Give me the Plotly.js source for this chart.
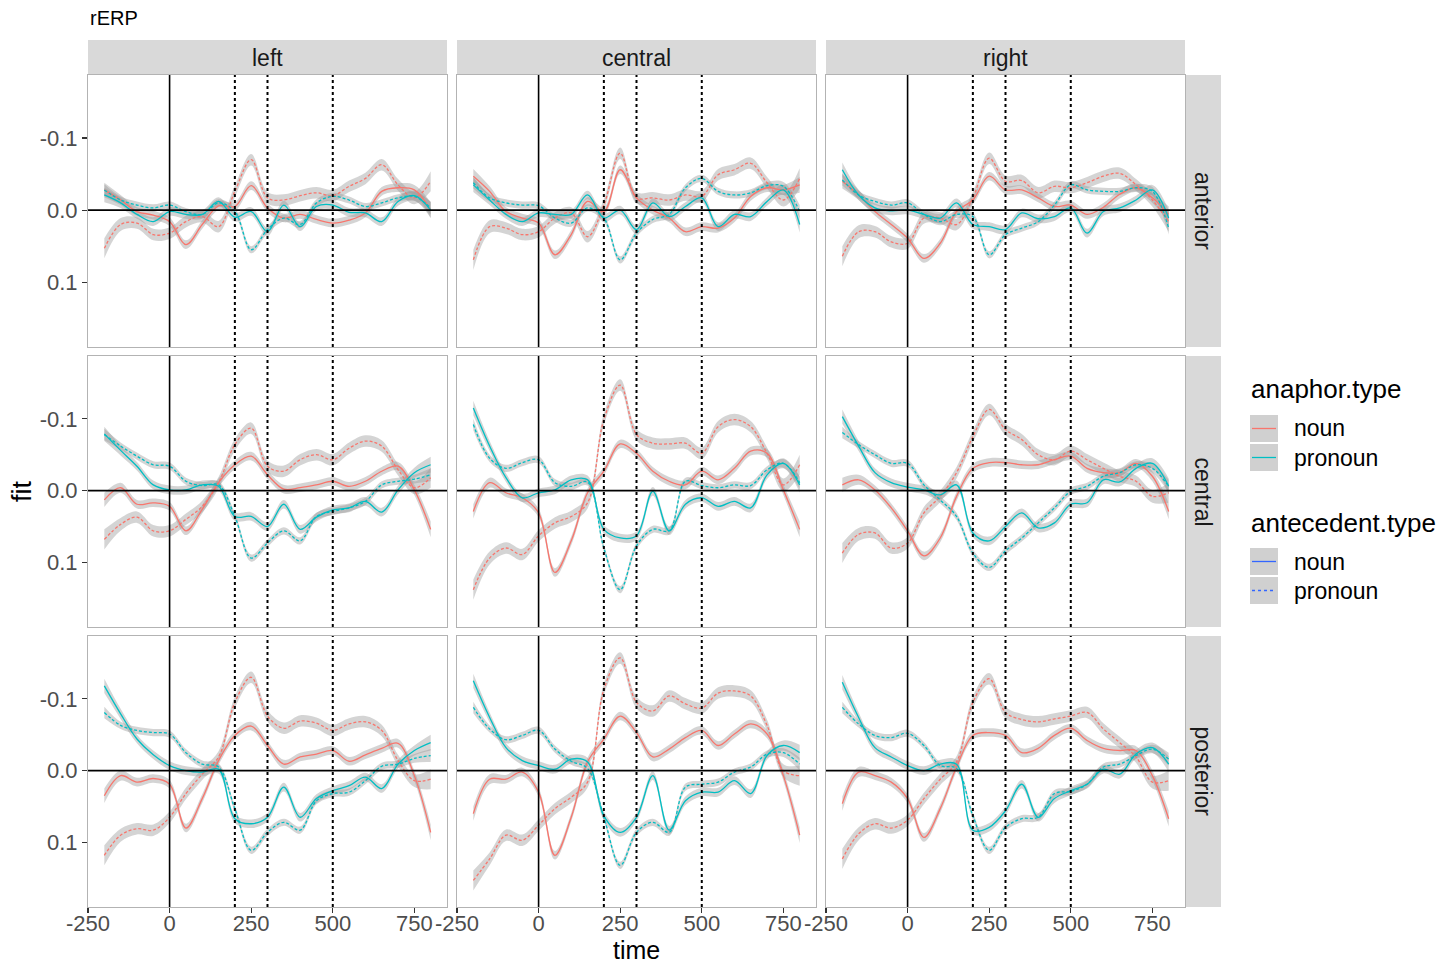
<!DOCTYPE html>
<html>
<head>
<meta charset="utf-8">
<script src="https://cdn.plot.ly/plotly-3.0.1.min.js"></script>
<style>
  html, body { margin: 0; padding: 0; background: #ffffff; }
  #chart { width: 1453px; height: 966px; }
</style>
</head>
<body>
<div id="chart"></div>
<script>
(function () {

	'use strict';

	// time points (ms) of the fitted curves
	const times = [-200, -150, -100, -50, 0, 50, 100, 150, 200, 250, 300, 350, 400, 450, 500, 550, 600, 650, 700, 750, 800];

	// facet labels
	const regions = ['left', 'central', 'right'];       // columns
	const sites = ['anterior', 'central', 'posterior']; // rows

	// axis ticks
	const xTickVals = [-250, 0, 250, 500, 750];
	const xTickText = ['-250', '0', '250', '500', '750'];
	const yTickVals = [-0.1, 0, 0.1];
	const yTickText = ['-0.1', '0.0', '0.1'];

	// reference lines (ms)
	const onsetTime = 0;
	const windowTimes = [200, 300, 500];

	// NN = anaphor noun / antecedent noun, NP = anaphor noun / antecedent pronoun
	// PN = anaphor pronoun / antecedent noun, PP = anaphor pronoun / antecedent pronoun

	// anterior
	const anteriorLeftNN = [-0.028, -0.014, 0.002, 0.007, 0.016, 0.048, 0.020, -0.006, -0.005, -0.034, -0.003, 0.011, 0.006, 0.013, 0.018, 0.014, 0.004, -0.026, -0.031, -0.028, 0.000];
	const anteriorLeftNP = [0.053, 0.020, 0.018, 0.034, 0.032, 0.016, 0.009, 0.023, -0.026, -0.070, -0.017, -0.014, -0.020, -0.024, -0.020, -0.033, -0.044, -0.063, -0.035, -0.017, -0.040];
	const anteriorLeftPN = [-0.021, -0.010, 0.006, 0.016, 0.002, 0.006, 0.006, -0.012, 0.010, 0.002, 0.030, -0.007, 0.023, -0.005, -0.007, 0.003, 0.004, 0.016, -0.012, -0.020, 0.000];
	const anteriorLeftPP = [-0.028, -0.014, -0.007, -0.003, -0.007, 0.002, 0.006, -0.010, 0.002, 0.055, 0.027, 0.011, 0.020, -0.010, -0.019, -0.014, -0.005, -0.010, -0.017, -0.019, -0.003];

	const anteriorCentralNN = [-0.047, -0.026, 0.002, 0.011, 0.018, 0.062, 0.034, -0.012, 0.002, -0.056, -0.017, 0.000, 0.011, 0.030, 0.023, 0.025, 0.011, -0.019, -0.031, -0.028, -0.035];
	const anteriorCentralNP = [0.069, 0.023, 0.025, 0.034, 0.030, 0.011, 0.004, 0.037, -0.007, -0.079, -0.017, -0.017, -0.014, -0.021, -0.019, -0.049, -0.056, -0.065, -0.038, -0.014, -0.044];
	const anteriorCentralPN = [-0.035, -0.014, 0.006, 0.016, 0.004, 0.006, 0.006, -0.021, 0.011, 0.000, 0.027, -0.010, 0.009, -0.005, -0.017, 0.023, 0.006, 0.009, -0.012, -0.028, 0.020];
	const anteriorCentralPP = [-0.038, -0.017, -0.010, -0.007, -0.006, 0.011, 0.018, -0.003, 0.011, 0.069, 0.032, 0.013, 0.006, -0.031, -0.044, -0.026, -0.021, -0.024, -0.034, -0.033, 0.002];

	const anteriorRightNN = [-0.040, -0.021, 0.002, 0.020, 0.039, 0.067, 0.046, 0.002, -0.014, -0.047, -0.028, -0.028, -0.017, -0.005, -0.007, 0.006, -0.004, -0.022, -0.031, -0.017, 0.006];
	const anteriorRightNP = [0.064, 0.030, 0.030, 0.044, 0.046, 0.011, 0.011, 0.020, -0.017, -0.072, -0.040, -0.041, -0.024, -0.033, -0.031, -0.038, -0.047, -0.051, -0.035, -0.014, 0.016];
	const anteriorRightPN = [-0.056, -0.021, -0.003, 0.001, 0.000, 0.006, 0.011, -0.010, 0.020, 0.023, 0.027, 0.004, 0.012, 0.009, -0.003, 0.032, 0.002, -0.003, -0.014, -0.028, 0.011];
	const anteriorRightPP = [-0.042, -0.021, -0.012, -0.007, -0.010, 0.006, 0.016, 0.006, 0.009, 0.062, 0.034, 0.025, 0.016, -0.007, -0.035, -0.028, -0.026, -0.026, -0.031, -0.026, 0.025];

	// central
	const centralLeftNN = [0.013, -0.004, 0.019, 0.017, 0.022, 0.056, 0.026, -0.011, -0.036, -0.048, -0.022, -0.002, -0.004, -0.008, -0.013, -0.006, -0.013, -0.027, -0.034, -0.001, 0.054];
	const centralLeftNP = [0.068, 0.047, 0.037, 0.056, 0.056, 0.040, 0.022, -0.011, -0.064, -0.087, -0.034, -0.027, -0.043, -0.050, -0.043, -0.059, -0.069, -0.062, -0.029, -0.004, -0.018];
	const centralLeftPN = [-0.079, -0.056, -0.034, -0.008, -0.001, -0.001, -0.008, -0.006, 0.036, 0.036, 0.050, 0.019, 0.054, 0.037, 0.027, 0.024, 0.015, 0.030, -0.001, -0.025, -0.036];
	const centralLeftPP = [-0.078, -0.062, -0.048, -0.036, -0.034, -0.013, -0.007, -0.008, 0.036, 0.094, 0.073, 0.056, 0.070, 0.036, 0.029, 0.024, 0.015, -0.008, -0.013, -0.016, -0.022];

	const centralCentralNN = [0.029, -0.011, 0.003, 0.010, 0.031, 0.114, 0.070, 0.003, -0.027, -0.065, -0.052, -0.027, -0.013, -0.008, -0.027, -0.015, -0.031, -0.055, -0.052, -0.001, 0.054];
	const centralCentralNP = [0.138, 0.094, 0.080, 0.089, 0.063, 0.045, 0.036, 0.017, -0.099, -0.147, -0.078, -0.066, -0.065, -0.066, -0.052, -0.089, -0.099, -0.089, -0.052, -0.008, -0.036];
	const centralCentralPN = [-0.115, -0.062, -0.018, 0.010, 0.003, -0.001, -0.015, -0.015, 0.054, 0.066, 0.063, 0.001, 0.056, 0.019, 0.010, 0.022, 0.015, 0.024, -0.022, -0.038, -0.008];
	const centralCentralPP = [-0.092, -0.045, -0.031, -0.039, -0.043, -0.011, -0.006, -0.012, 0.080, 0.138, 0.077, 0.054, 0.056, -0.013, -0.007, -0.004, -0.008, -0.007, -0.029, -0.038, -0.011];

	const centralRightNN = [-0.008, -0.015, -0.001, 0.024, 0.056, 0.091, 0.066, 0.008, -0.031, -0.039, -0.039, -0.036, -0.036, -0.043, -0.048, -0.031, -0.025, -0.025, -0.038, -0.020, 0.029];
	const centralRightNP = [0.087, 0.061, 0.059, 0.080, 0.073, 0.031, 0.008, -0.025, -0.075, -0.113, -0.085, -0.071, -0.050, -0.043, -0.055, -0.043, -0.031, -0.020, -0.013, 0.008, 0.003];
	const centralRightPN = [-0.103, -0.062, -0.025, -0.011, -0.005, -0.001, 0.006, -0.008, 0.059, 0.070, 0.050, 0.031, 0.052, 0.045, 0.019, 0.017, -0.015, -0.012, -0.031, -0.038, -0.006];
	const centralRightPP = [-0.081, -0.064, -0.050, -0.038, -0.038, -0.008, 0.013, 0.036, 0.087, 0.107, 0.084, 0.066, 0.045, 0.024, 0.001, -0.006, -0.020, -0.025, -0.036, -0.031, -0.006];

	// posterior
	const posteriorLeftNN = [0.035, 0.007, 0.016, 0.011, 0.019, 0.080, 0.039, -0.014, -0.049, -0.062, -0.035, -0.009, -0.019, -0.023, -0.028, -0.013, -0.022, -0.031, -0.038, 0.007, 0.086];
	const posteriorLeftNP = [0.118, 0.090, 0.081, 0.083, 0.065, 0.032, 0.005, -0.019, -0.095, -0.130, -0.076, -0.059, -0.069, -0.066, -0.056, -0.065, -0.068, -0.056, -0.014, 0.014, 0.012];
	const posteriorLeftPN = [-0.118, -0.079, -0.044, -0.022, -0.007, 0.000, 0.002, -0.002, 0.067, 0.074, 0.065, 0.023, 0.065, 0.039, 0.028, 0.021, 0.009, 0.025, -0.009, -0.028, -0.039];
	const posteriorLeftPP = [-0.081, -0.063, -0.056, -0.053, -0.051, -0.025, -0.009, -0.005, 0.053, 0.111, 0.086, 0.072, 0.083, 0.042, 0.032, 0.030, 0.014, -0.006, -0.009, -0.017, -0.021];

	const posteriorCentralNN = [0.060, 0.012, 0.012, 0.002, 0.030, 0.118, 0.065, -0.012, -0.044, -0.076, -0.053, -0.019, -0.030, -0.046, -0.056, -0.035, -0.051, -0.065, -0.051, 0.007, 0.090];
	const posteriorCentralNP = [0.153, 0.123, 0.090, 0.097, 0.076, 0.053, 0.037, 0.016, -0.113, -0.157, -0.095, -0.083, -0.104, -0.093, -0.087, -0.108, -0.111, -0.104, -0.063, 0.000, 0.007];
	const posteriorCentralPN = [-0.125, -0.074, -0.032, -0.014, -0.007, -0.002, -0.016, -0.012, 0.063, 0.086, 0.065, 0.007, 0.083, 0.042, 0.030, 0.030, 0.014, 0.032, -0.021, -0.035, -0.025];
	const posteriorCentralPP = [-0.088, -0.058, -0.043, -0.049, -0.056, -0.030, -0.013, -0.003, 0.065, 0.132, 0.086, 0.072, 0.086, 0.023, 0.019, 0.016, 0.002, -0.005, -0.023, -0.025, -0.009];

	const posteriorRightNN = [0.046, 0.002, 0.007, 0.016, 0.039, 0.093, 0.053, -0.005, -0.049, -0.053, -0.049, -0.025, -0.031, -0.049, -0.059, -0.042, -0.031, -0.028, -0.028, 0.007, 0.067];
	const posteriorRightNP = [0.123, 0.088, 0.074, 0.080, 0.069, 0.039, 0.012, -0.012, -0.095, -0.128, -0.081, -0.071, -0.068, -0.072, -0.076, -0.081, -0.058, -0.039, -0.019, 0.016, 0.014];
	const posteriorRightPN = [-0.123, -0.074, -0.032, -0.019, -0.007, 0.000, -0.009, -0.009, 0.083, 0.079, 0.056, 0.019, 0.065, 0.039, 0.028, 0.019, -0.002, 0.005, -0.023, -0.032, -0.009];
	const posteriorRightPP = [-0.088, -0.065, -0.049, -0.046, -0.052, -0.035, -0.007, -0.003, 0.063, 0.111, 0.079, 0.067, 0.065, 0.032, 0.029, 0.019, -0.005, -0.009, -0.021, -0.030, -0.016];

	// standard error (ribbon half width) per condition
	const seNN = [0.010, 0.007, 0.006, 0.006, 0.006, 0.006, 0.006, 0.006, 0.006, 0.006, 0.006, 0.006, 0.006, 0.006, 0.006, 0.006, 0.006, 0.006, 0.006, 0.007, 0.011];
	const seNP = [0.014, 0.009, 0.008, 0.008, 0.008, 0.008, 0.008, 0.008, 0.008, 0.008, 0.008, 0.008, 0.008, 0.008, 0.008, 0.008, 0.008, 0.008, 0.008, 0.009, 0.014];
	const sePN = [0.010, 0.007, 0.006, 0.006, 0.006, 0.006, 0.006, 0.006, 0.006, 0.006, 0.006, 0.006, 0.006, 0.006, 0.006, 0.006, 0.006, 0.006, 0.006, 0.007, 0.011];
	const sePP = [0.008, 0.005, 0.005, 0.005, 0.005, 0.005, 0.005, 0.005, 0.005, 0.005, 0.005, 0.005, 0.005, 0.005, 0.005, 0.005, 0.005, 0.005, 0.005, 0.006, 0.009];

	// rows x columns x [NN, NP, PN, PP]
	const panelFits = [
		[
			[anteriorLeftNN, anteriorLeftNP, anteriorLeftPN, anteriorLeftPP],
			[anteriorCentralNN, anteriorCentralNP, anteriorCentralPN, anteriorCentralPP],
			[anteriorRightNN, anteriorRightNP, anteriorRightPN, anteriorRightPP]
		],
		[
			[centralLeftNN, centralLeftNP, centralLeftPN, centralLeftPP],
			[centralCentralNN, centralCentralNP, centralCentralPN, centralCentralPP],
			[centralRightNN, centralRightNP, centralRightPN, centralRightPP]
		],
		[
			[posteriorLeftNN, posteriorLeftNP, posteriorLeftPN, posteriorLeftPP],
			[posteriorCentralNN, posteriorCentralNP, posteriorCentralPN, posteriorCentralPP],
			[posteriorRightNN, posteriorRightNP, posteriorRightPN, posteriorRightPP]
		]
	];

	const RED = '#F8766D';
	const CYAN = '#00BFC4';
	const BLUE = '#3366FF';
	const RIBBON = 'rgba(153,153,153,0.42)';
	const FONT = 'Liberation Sans, Arial, Helvetica, sans-serif';

	const conditions = [
		{ name: 'noun / noun', color: RED, dash: 'solid', se: seNN },
		{ name: 'noun / pronoun', color: RED, dash: '3px,2px', se: seNP },
		{ name: 'pronoun / noun', color: CYAN, dash: 'solid', se: sePN },
		{ name: 'pronoun / pronoun', color: CYAN, dash: '3px,2px', se: sePP }
	];

	// figure size and panel boxes in pixels
	const W = 1453, H = 966;
	const colPx = [[88, 447], [457, 816], [826, 1185]];
	const rowPx = [[75, 347], [356, 627], [636, 907]];
	const px = x => x / W;
	const py = y => 1 - y / H;

	const data = [];
	const shapes = [];
	const annotations = [];
	const layout = {
		width: W,
		height: H,
		margin: { l: 0, r: 0, t: 0, b: 0 },
		paper_bgcolor: '#ffffff',
		plot_bgcolor: '#ffffff',
		showlegend: false,
		font: { family: FONT, color: '#1a1a1a' }
	};

	sites.forEach((site, r) => {
		regions.forEach((region, c) => {
			const idx = r * 3 + c + 1;
			const xa = idx === 1 ? 'x' : 'x' + idx;
			const ya = idx === 1 ? 'y' : 'y' + idx;
			const fits = panelFits[r][c];

			// ribbons first
			conditions.forEach((cond, k) => {
				const fit = fits[k];
				const lower = fit.map((v, i) => v - cond.se[i]);
				const upper = fit.map((v, i) => v + cond.se[i]);
				data.push({
					x: times, y: lower, xaxis: xa, yaxis: ya,
					type: 'scatter', mode: 'lines',
					line: { width: 0, shape: 'spline', smoothing: 1 },
					hoverinfo: 'skip'
				});
				data.push({
					x: times, y: upper, xaxis: xa, yaxis: ya,
					type: 'scatter', mode: 'lines',
					line: { width: 0, shape: 'spline', smoothing: 1 },
					fill: 'tonexty', fillcolor: RIBBON,
					hoverinfo: 'skip'
				});
			});

			// fitted lines
			conditions.forEach((cond, k) => {
				data.push({
					x: times, y: fits[k], xaxis: xa, yaxis: ya,
					type: 'scatter', mode: 'lines',
					name: cond.name,
					line: { color: cond.color, width: 1.3, dash: cond.dash, shape: 'spline', smoothing: 1 }
				});
			});

			const isLeft = c === 0;
			const isBottom = r === 2;

			layout['xaxis' + (idx === 1 ? '' : idx)] = {
				domain: [px(colPx[c][0]), px(colPx[c][1])],
				anchor: ya,
				range: [-250, 850],
				tickvals: xTickVals,
				ticktext: xTickText,
				showticklabels: isBottom,
				ticks: isBottom ? 'outside' : '',
				ticklen: 5,
				tickwidth: 1.2,
				tickcolor: '#333333',
				ticklabelstandoff: -8,
				tickfont: { family: FONT, size: 22, color: '#4d4d4d' },
				showgrid: false,
				zeroline: false,
				showline: true,
				mirror: true,
				linecolor: '#b3b3b3',
				linewidth: 1
			};
			layout['yaxis' + (idx === 1 ? '' : idx)] = {
				domain: [py(rowPx[r][1]), py(rowPx[r][0])],
				anchor: xa,
				range: [0.19, -0.1875],
				tickvals: yTickVals,
				ticktext: yTickText,
				showticklabels: isLeft,
				ticks: isLeft ? 'outside' : '',
				ticklen: 5,
				tickwidth: 1.2,
				tickcolor: '#333333',
				tickfont: { family: FONT, size: 22, color: '#4d4d4d' },
				showgrid: false,
				zeroline: false,
				showline: true,
				mirror: true,
				linecolor: '#b3b3b3',
				linewidth: 1
			};

			// reference lines
			shapes.push({
				type: 'line', layer: 'above', xref: xa, yref: ya + ' domain',
				x0: onsetTime, x1: onsetTime, y0: 0, y1: 1,
				line: { color: '#000000', width: 1.6 }
			});
			windowTimes.forEach(t => {
				shapes.push({
					type: 'line', layer: 'above', xref: xa, yref: ya + ' domain',
					x0: t, x1: t, y0: 0, y1: 1,
					line: { color: '#000000', width: 2, dash: 'dot' }
				});
			});
			shapes.push({
				type: 'line', layer: 'above', xref: xa + ' domain', yref: ya,
				x0: 0, x1: 1, y0: 0, y1: 0,
				line: { color: '#000000', width: 1.6 }
			});
		});
	});

	// facet strips
	regions.forEach((region, c) => {
		shapes.push({
			type: 'rect', xref: 'paper', yref: 'paper', layer: 'below',
			x0: px(colPx[c][0]), x1: px(colPx[c][1]), y0: py(75), y1: py(40),
			fillcolor: '#d9d9d9', line: { width: 0 }
		});
		annotations.push({
			xref: 'paper', yref: 'paper', showarrow: false,
			x: px((colPx[c][0] + colPx[c][1]) / 2), y: py(57.5),
			xanchor: 'center', yanchor: 'middle',
			text: region, font: { family: FONT, size: 23, color: '#1a1a1a' }
		});
	});
	sites.forEach((site, r) => {
		shapes.push({
			type: 'rect', xref: 'paper', yref: 'paper', layer: 'below',
			x0: px(1185), x1: px(1221), y0: py(rowPx[r][1]), y1: py(rowPx[r][0]),
			fillcolor: '#d9d9d9', line: { width: 0 }
		});
		annotations.push({
			xref: 'paper', yref: 'paper', showarrow: false,
			x: px(1203), y: py((rowPx[r][0] + rowPx[r][1]) / 2),
			xanchor: 'center', yanchor: 'middle', textangle: 90,
			text: site, font: { family: FONT, size: 23, color: '#1a1a1a' }
		});
	});

	// titles
	annotations.push({
		xref: 'paper', yref: 'paper', showarrow: false,
		x: px(88), y: py(18), xanchor: 'left', yanchor: 'middle',
		text: 'rERP', font: { family: FONT, size: 20, color: '#000000' }
	});
	annotations.push({
		xref: 'paper', yref: 'paper', showarrow: false,
		x: px(636), y: py(950), xanchor: 'center', yanchor: 'middle', borderpad: 0,
		text: 'time', font: { family: FONT, size: 25, color: '#000000' }
	});
	annotations.push({
		xref: 'paper', yref: 'paper', showarrow: false,
		x: px(22), y: py(491), xanchor: 'center', yanchor: 'middle', textangle: -90,
		text: 'fit', font: { family: FONT, size: 27, color: '#000000' }
	});

	// legends (ggplot style keys)
	const legendGroups = [
		{ title: 'anaphor.type', titleY: 389, keys: [
			{ label: 'noun', color: RED, dash: 'solid', y: 428.5 },
			{ label: 'pronoun', color: CYAN, dash: 'solid', y: 457.5 }
		] },
		{ title: 'antecedent.type', titleY: 523, keys: [
			{ label: 'noun', color: BLUE, dash: 'solid', y: 561.5 },
			{ label: 'pronoun', color: BLUE, dash: 'dot', y: 590.5 }
		] }
	];
	legendGroups.forEach(g => {
		annotations.push({
			xref: 'paper', yref: 'paper', showarrow: false,
			x: px(1249), y: py(g.titleY), xanchor: 'left', yanchor: 'middle',
			text: g.title, font: { family: FONT, size: 26, color: '#000000' }
		});
		g.keys.forEach(k => {
			shapes.push({
				type: 'rect', xref: 'paper', yref: 'paper',
				x0: px(1250), x1: px(1278), y0: py(k.y + 13.5), y1: py(k.y - 13.5),
				fillcolor: '#d0d0d0', line: { width: 0 }
			});
			shapes.push({
				type: 'line', xref: 'paper', yref: 'paper',
				x0: px(1252), x1: px(1276), y0: py(k.y), y1: py(k.y),
				line: { color: k.color, width: 1.3, dash: k.dash }
			});
			annotations.push({
				xref: 'paper', yref: 'paper', showarrow: false,
				x: px(1292), y: py(k.y), xanchor: 'left', yanchor: 'middle',
				text: k.label, font: { family: FONT, size: 23, color: '#000000' }
			});
		});
	});

	layout.shapes = shapes;
	layout.annotations = annotations;

	Plotly.newPlot('chart', data, layout, { displayModeBar: false, responsive: false, staticPlot: true });

})();
</script>
</body>
</html>
